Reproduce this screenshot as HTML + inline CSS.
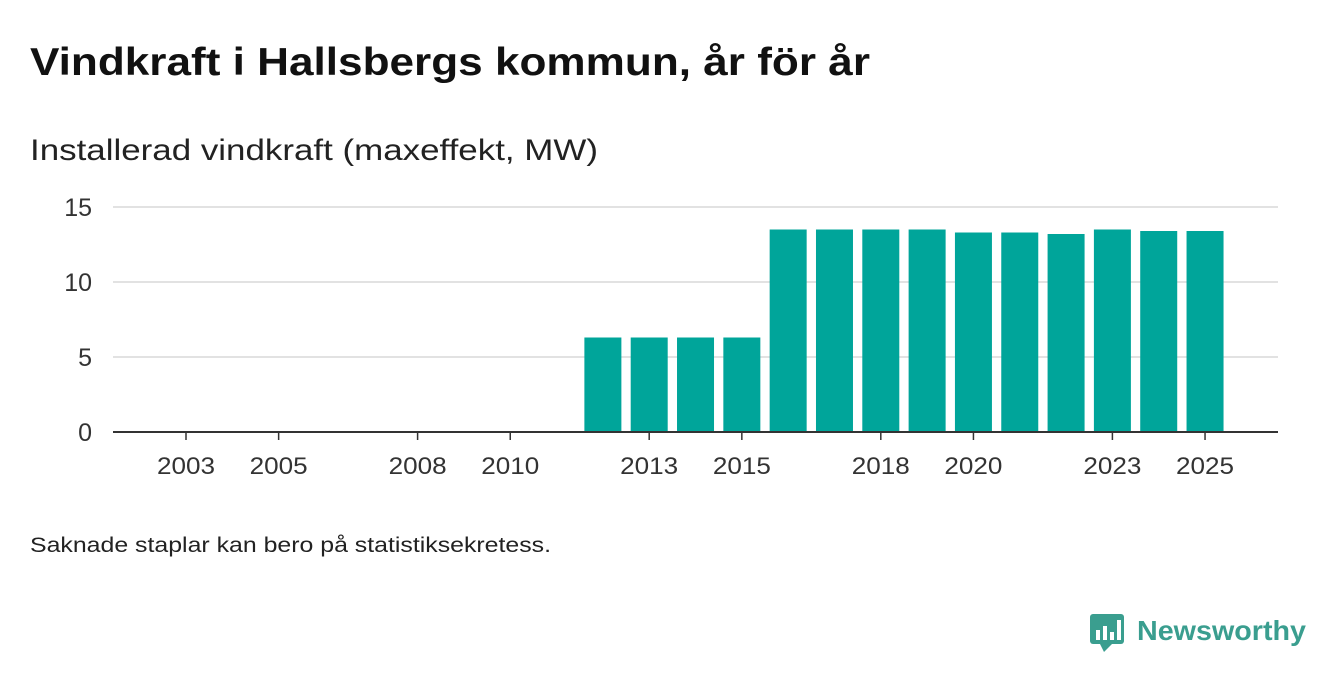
<!DOCTYPE html>
<html><head><meta charset="utf-8">
<style>
body{margin:0;background:#fff;width:1340px;height:685px;overflow:hidden;font-family:"Liberation Sans",sans-serif;color:#1a1a1a}
</style></head>
<body>
<svg id="chart" width="1340" height="685" xmlns="http://www.w3.org/2000/svg">
<text x="30" y="75" font-size="39" font-weight="bold" fill="#111" textLength="840" lengthAdjust="spacingAndGlyphs">Vindkraft i Hallsbergs kommun, år för år</text>
<text x="30" y="160" font-size="30" fill="#222" textLength="568" lengthAdjust="spacingAndGlyphs">Installerad vindkraft (maxeffekt, MW)</text>
<g id="grid"></g>
<g id="bars"></g>
<g id="xticks"></g>
<line x1="113" x2="1278" y1="432" y2="432" stroke="#333" stroke-width="2"/>
<text x="30" y="552" font-size="21" fill="#222" textLength="521" lengthAdjust="spacingAndGlyphs">Saknade staplar kan bero på statistiksekretess.</text>
<g>
<rect x="1090" y="614" width="34" height="30" rx="3" fill="#3a9e8f"/>
<polygon points="1100,644 1112,644 1104,652" fill="#3a9e8f"/>
<rect x="1096" y="630" width="4" height="10" fill="#fff"/><rect x="1103" y="626" width="4" height="14" fill="#fff"/><rect x="1110" y="632" width="4" height="8" fill="#fff"/><rect x="1117" y="620" width="4" height="20" fill="#fff"/>
<text x="1137" y="640" font-size="28" font-weight="bold" fill="#3a9e8f" textLength="169" lengthAdjust="spacingAndGlyphs">Newsworthy</text>
</g>
</svg>
<script>
const years=[2012,2013,2014,2015,2016,2017,2018,2019,2020,2021,2022,2023,2024,2025];
const values=[6.3,6.3,6.3,6.3,13.5,13.5,13.5,13.5,13.3,13.3,13.2,13.5,13.4,13.4];
const yTicks=[0,5,10,15];
const xTickYears=[2003,2005,2008,2010,2013,2015,2018,2020,2023,2025];
const NS="http://www.w3.org/2000/svg";
const x=y=>186+(y-2003)*46.32;
const yS=v=>432-v*15;
const mk=(t,a,p)=>{const e=document.createElementNS(NS,t);for(const k in a)e.setAttribute(k,a[k]);p.appendChild(e);return e;};
const grid=document.getElementById('grid');
yTicks.forEach(v=>{
 if(v>0){const l=mk('line',{x1:113,x2:1278,y1:yS(v),y2:yS(v),stroke:'#d9d9d9','stroke-width':1.5},grid);
 
 }
 const t=mk('text',{x:92,y:yS(v)+9,'font-size':25,'text-anchor':'end',fill:'#333'},grid);
 t.textContent=v;
 
 
});
const bars=document.getElementById('bars');
years.forEach((yr,i)=>{
 const r=mk('rect',{x:x(yr)-18.5,y:yS(values[i]),width:37,height:values[i]*15,fill:'#00a59a'},bars);
 
 
});
const xt=document.getElementById('xticks');
xTickYears.forEach(yr=>{
 mk('line',{x1:x(yr),x2:x(yr),y1:432,y2:440,stroke:'#333','stroke-width':1.5},xt);
 const t=mk('text',{x:x(yr),y:474,'font-size':24,'text-anchor':'middle',fill:'#333',textLength:58,lengthAdjust:'spacingAndGlyphs'},xt);
 t.textContent=yr;
 
 
});
</script>
</body></html>
